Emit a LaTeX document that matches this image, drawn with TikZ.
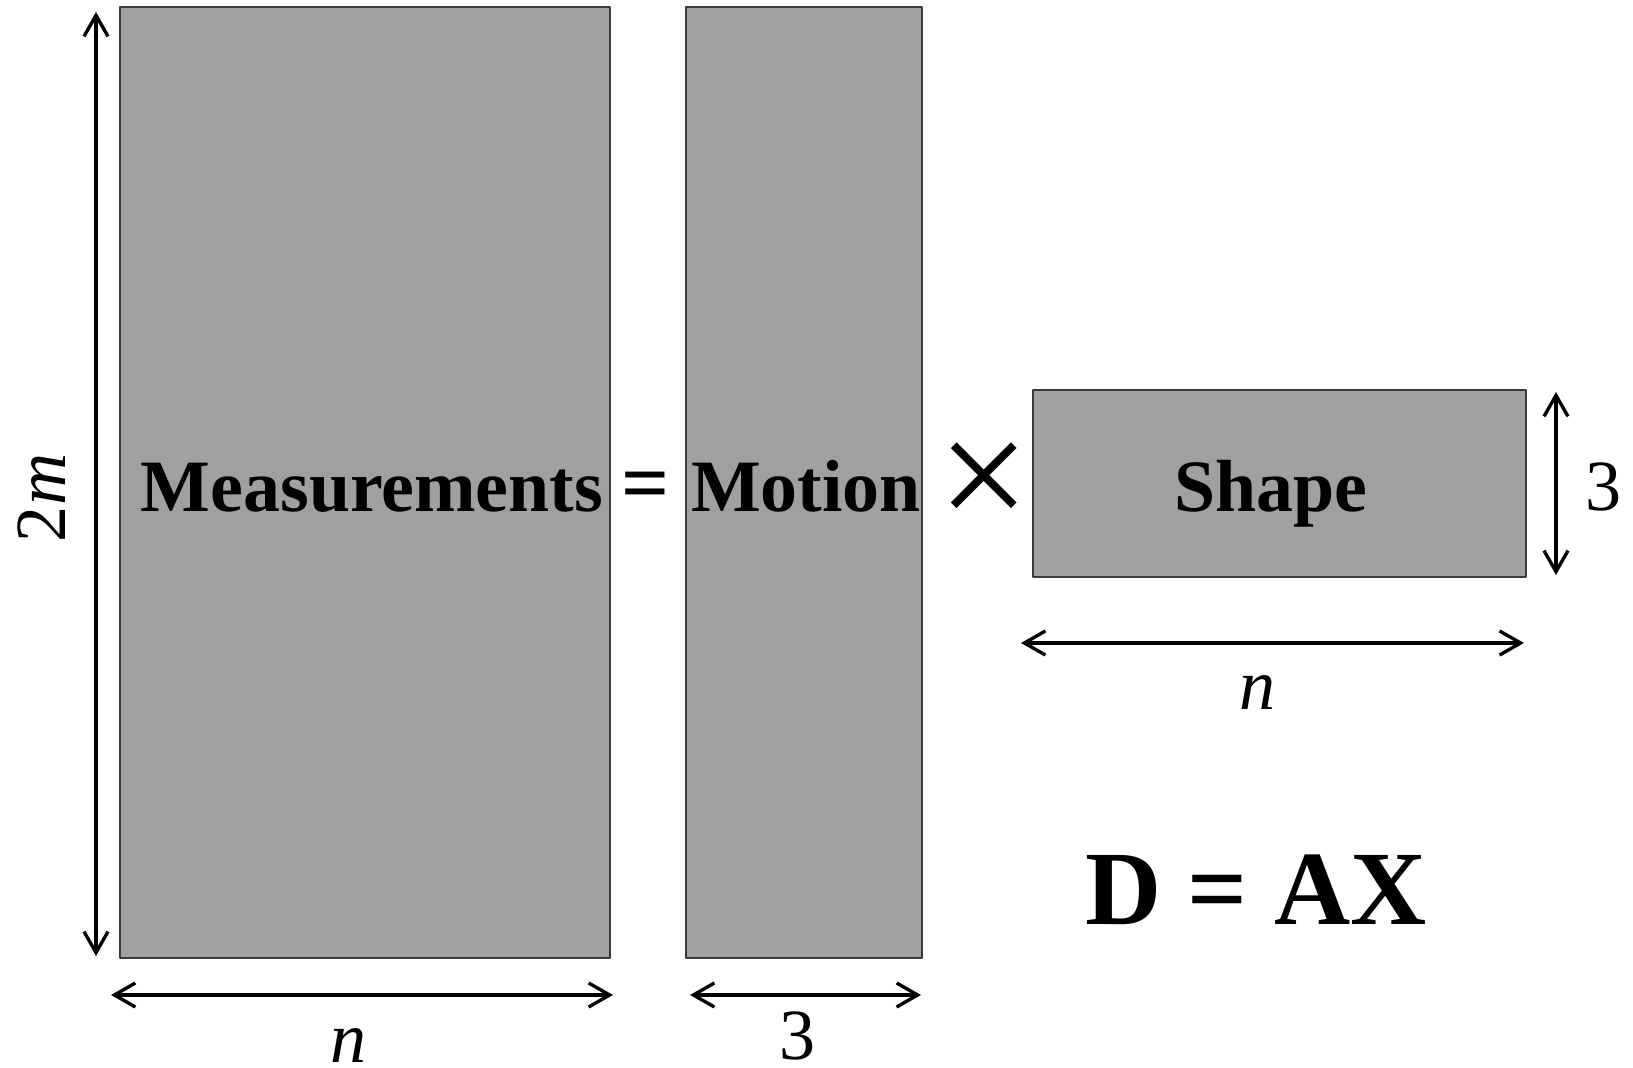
\documentclass[tikz,border=0pt]{standalone}
\usepackage{fontspec}
\setmainfont{Liberation Serif}
\usetikzlibrary{arrows.meta}
\definecolor{matgray}{HTML}{A0A0A0}
\definecolor{edgegray}{HTML}{3A3A3A}
\tikzset{
    matbox/.style={
        draw=edgegray, line width=0.55pt, fill=matgray, inner sep=0pt
    },
    dimline/.style={
        line width=0.95pt,
        {Straight Barb[length=2.1mm,width=2.4mm]}-{Straight Barb[length=2.1mm,width=2.4mm]}
    },
    boldlab/.style={
        font=\fontsize{21}{26}\selectfont\bfseries, inner sep=0pt
    },
    dimlab/.style={
        font=\fontsize{20.5}{24}\selectfont, inner sep=0pt
    }
}

\begin{document}
\begin{tikzpicture}[x=0.01cm,y=-0.01cm,line cap=round,line join=round]
\useasboundingbox (0,0) rectangle (1633,1068);

% the three matrices
\node[matbox, minimum width=4.9cm, minimum height=9.51cm] (meas) at (365,482.5) {};
\node[matbox, minimum width=2.36cm, minimum height=9.51cm] (motion) at (804,482.5) {};
\node[matbox, minimum width=4.93cm, minimum height=1.87cm] (shape) at (1279.5,483.5) {};

% names of the matrices and the operators between them
\node[boldlab, anchor=base] (measlab) at (372,512) {Measurements};
\node[boldlab, font=\fontsize{24}{28}\selectfont\bfseries, anchor=base] (eqsign) at (646,512) {=};
\node[boldlab, anchor=base] (motionlab) at (806,512) {Motion};
\node[font=\fontsize{46}{50}\selectfont, inner sep=0pt] (timessign) at (984,486) {×};
\node[boldlab, anchor=base] (shapelab) at (1271,512) {Shape};

% dimension arrows
\coordinate (mtop) at (96,12);
\coordinate (mbot) at (96,956);
\draw[dimline] (mtop) -- (mbot);

\coordinate (mleft) at (111,995);
\coordinate (mright) at (613,995);
\draw[dimline] (mleft) -- (mright);

\coordinate (aleft) at (690,995);
\coordinate (aright) at (921,995);
\draw[dimline] (aleft) -- (aright);

\coordinate (sleft) at (1021,643);
\coordinate (sright) at (1524,643);
\draw[dimline] (sleft) -- (sright);

\coordinate (stop) at (1556,392);
\coordinate (sbot) at (1556,575);
\draw[dimline] (stop) -- (sbot);

% dimension labels
\node[dimlab, rotate=90] (rowsm) at (42,498) {2\textit{m}};
\node[dimlab] (colsm) at (349,1046) {\textit{n}};
\node[dimlab] (colsa) at (798,1036) {3};
\node[dimlab] (colss) at (1258,693) {\textit{n}};
\node[dimlab] (rowss) at (1604,487) {3};

% the equation in matrix form
\node[font=\fontsize{30}{36}\selectfont\bfseries, inner sep=0pt, anchor=base] (eqn) at (1256,925) {D = AX};

\end{tikzpicture}
\end{document}
